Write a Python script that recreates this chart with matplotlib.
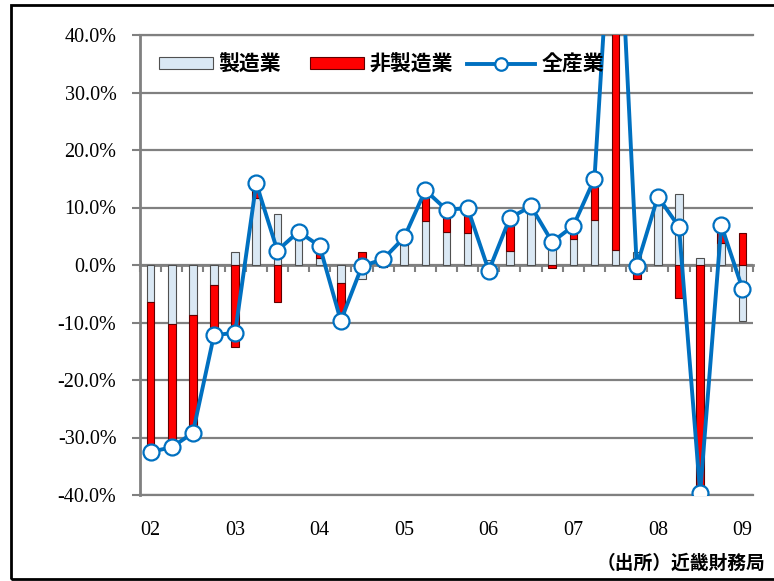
import numpy as np
import matplotlib
matplotlib.use('Agg')
from matplotlib import pyplot as plt
from matplotlib.patches import Patch, Rectangle
from matplotlib.lines import Line2D
from matplotlib.legend_handler import HandlerLine2D
from matplotlib.transforms import blended_transform_factory

plt.rcParams['font.family'] = ['Noto Sans CJK JP', 'DejaVu Sans']
plt.rcParams['axes.unicode_minus'] = False

# 2002Q1 - 2009Q1 (%)
manufacturing = [-6.5, -10.3, -8.7, -3.5, 2.3, 11.6, 8.8, 4.6, 1.2, -3.2,
                 -2.4, 1.3, 3.5, 7.7, 5.8, 5.5, 0.9, 2.5, 9.8, 4.6,
                 4.6, 7.9, 2.6, 2.2, 10.4, 12.3, 1.2, 3.8, -9.7]
non_manufacturing = [-25.1, -20.7, -20.5, -8.7, -14.2, 2.6, -6.4, 1.2, 2.0, -6.5,
                     2.2, -0.3, 1.3, 5.3, 3.8, 4.3, -1.8, 5.7, 0.3, -0.6,
                     2.2, 7.1, 72.0, -2.4, 1.4, -5.7, -40.9, 3.1, 5.5]
all_industries = [-32.5, -31.7, -29.2, -12.2, -11.8, 14.2, 2.5, 5.8, 3.3, -9.7,
                  -0.2, 1.0, 4.8, 13.0, 9.6, 9.9, -1.0, 8.2, 10.2, 4.0,
                  6.8, 15.0, 74.6, -0.2, 11.9, 6.6, -39.7, 6.9, -4.1]
year_labels = ['02', '03', '04', '05', '06', '07', '08', '09']


class LongLineHandler(HandlerLine2D):
    """凡例の線を左に伸ばす"""
    def create_artists(self, legend, orig_handle, xdescent, ydescent,
                       width, height, fontsize, trans):
        extra = 10
        return super().create_artists(legend, orig_handle, xdescent + extra, ydescent,
                                      width + extra, height, fontsize, trans)


m = np.array(manufacturing)
n = np.array(non_manufacturing)
x = np.arange(len(m))
# Excel風の積み上げ(正は正、負は負に積む)
n_bottom = np.where(np.sign(n) == np.sign(m), m, 0)

fig = plt.figure(figsize=(7.74, 5.81), dpi=100)
ax = fig.add_axes([140 / 774, 1 - 495 / 581, 613 / 774, 460 / 581])

grid_c = '#808080'
ax.set_axisbelow(True)
ax.yaxis.grid(True, color=grid_c, lw=1.6)
ax.axhline(40, color=grid_c, lw=1.6, clip_on=False, zorder=0.5)
ax.axhline(-40, color=grid_c, lw=1.6, clip_on=False, zorder=0.5)

bw = 0.36
ax.bar(x, m, width=bw, color='#DAE8F4', edgecolor='#505050', lw=0.8, zorder=2)
ax.bar(x, n, width=bw, bottom=n_bottom, color='#FF0000', edgecolor='#600000', lw=0.8, zorder=2)
ax.plot(x, all_industries, color='#0070C0', lw=2.8, marker='o', ms=11.5,
        mfc='white', mec='#0070C0', mew=1.6, zorder=3)

ax.set_xlim(-0.5, len(m) - 0.5)
ax.set_ylim(-40, 40)
ax.set_yticks(np.arange(-40, 41, 10))
ax.set_yticklabels([f'{v:.1f}%' for v in np.arange(-40, 41, 10)],
                   family='Liberation Serif', fontsize=14.5)
ax.tick_params(axis='y', direction='out', length=6, width=1.5, color=grid_c, pad=11)

# 横軸はゼロの位置、区切りの目盛り
for s in ['top', 'right']:
    ax.spines[s].set_visible(False)
ax.spines['left'].set_color(grid_c)
ax.spines['left'].set_linewidth(2)
ax.spines['bottom'].set_position(('data', 0))
ax.spines['bottom'].set_color(grid_c)
ax.spines['bottom'].set_linewidth(2)
ax.spines['bottom'].set_zorder(1.5)
ax.set_xticks([])
ax.set_xticks(np.arange(-0.5, len(m), 1), minor=True)
ax.tick_params(axis='x', which='minor', direction='out', length=5, width=1.5, color=grid_c)

trans = blended_transform_factory(ax.transData, ax.transAxes)
for i, lab in enumerate(year_labels):
    ax.text(i * 4, -0.078, lab, transform=trans, ha='center', va='center',
            family='Liberation Serif', fontsize=14.5)

line_handle = Line2D([], [], color='#0070C0', lw=2.8, marker='o', ms=9,
                     mfc='white', mec='#0070C0', mew=1.6)
handles = [Patch(facecolor='#DAE8F4', edgecolor='#505050', lw=0.8),
           Patch(facecolor='#FF0000', edgecolor='#600000', lw=0.8),
           line_handle]
ax.legend(handles, ['製造業', '非製造業', '全産業'], loc='center left',
          bbox_to_anchor=(0.0, 0.937), ncol=3, frameon=False,
          prop={'family': 'Noto Sans CJK JP', 'weight': 'bold', 'size': 15},
          handlelength=2.6, handleheight=0.55, handletextpad=0.28, columnspacing=1.35,
          handler_map={line_handle: LongLineHandler()})

fig.text(765 / 774, 1 - 563 / 581, '（出所）近畿財務局', ha='right', va='center',
         fontsize=13.5, weight='bold')

fig.patches.append(Rectangle((11 / 774, 2 / 581), 1.0, 1 - 7 / 581, transform=fig.transFigure,
                             fill=False, edgecolor='black', lw=2))

fig.savefig('out.png', dpi=100)
